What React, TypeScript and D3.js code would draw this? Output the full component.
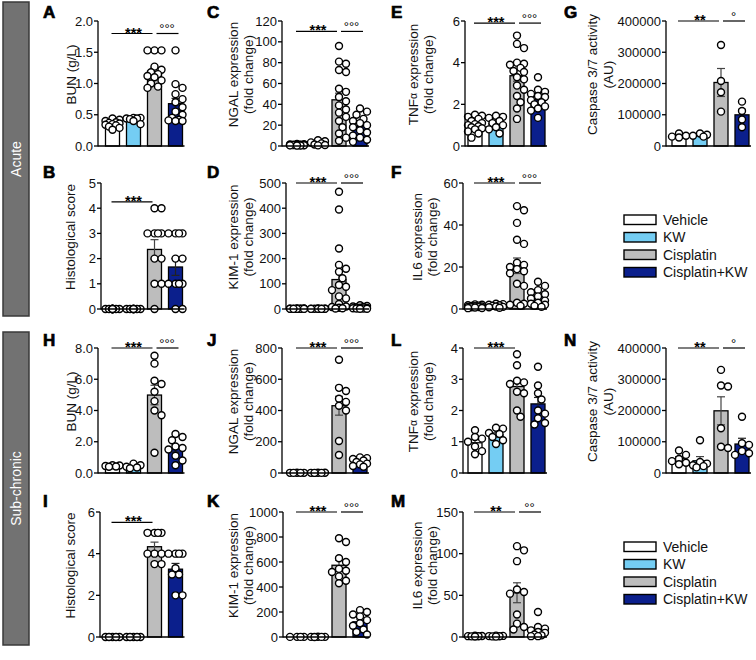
import React from 'react';
import * as d3 from 'd3';

const FONT = 'Liberation Sans, Arial, Helvetica, sans-serif';

const groups = ['Vehicle', 'KW', 'Cisplatin', 'Cisplatin+KW'];
const groupColors = ['#ffffff', '#74cdf3', '#bdbdbd', '#0b1f8c'];

// ---- Acute ----
const bunAcute = [
  [0.44, 0.42, 0.40, 0.38, 0.37, 0.36, 0.35, 0.34, 0.33, 0.31, 0.29, 0.26],
  [0.45, 0.45, 0.44, 0.44, 0.43, 0.40, 0.35],
  [1.53, 1.53, 1.53, 1.27, 1.22, 1.18, 1.15, 1.12, 1.10, 1.05, 1.00, 0.95, 0.93],
  [1.53, 0.99, 0.93, 0.83, 0.75, 0.70, 0.62, 0.55, 0.50, 0.45, 0.42, 0.41, 0.40, 0.40],
];
const histoAcute = [
  [0, 0, 0, 0, 0, 0, 0, 0, 0, 0, 0, 0],
  [0, 0, 0, 0, 0, 0, 0, 0, 0],
  [4, 4, 3, 3, 3, 3, 2, 2, 1, 1, 0],
  [3, 3, 3, 3, 2, 2, 1, 1, 1, 1, 0, 0],
];
const ngalAcute = [
  [2.0, 1.8, 1.5, 1.3, 1.2, 1.1, 1.0, 1.0, 0.9, 0.8, 0.8, 0.7, 0.6, 0.5, 0.4],
  [5.5, 4.5, 3.5, 2.5, 1.5, 1.0, 0.6],
  [96, 81, 79, 73, 71, 55, 52, 47, 43, 39, 35, 32, 28, 24, 18, 12, 8, 5],
  [36, 33, 30, 26, 24, 22, 20, 18, 15, 13, 10, 8, 6, 4],
];
const kimAcute = [
  [2.5, 2, 1.5, 1.2, 1, 1, 0.9, 0.8, 0.7, 0.6, 0.5, 0.4],
  [2, 1.6, 1.3, 1.1, 1, 0.9, 0.8, 0.6, 0.5],
  [465, 395, 240, 175, 160, 148, 122, 95, 88, 75, 50, 42, 20, 10, 8, 5, 3, 2],
  [15, 12, 10, 8, 6, 5, 4, 3, 2, 2, 1, 1],
];
const tnfAcute = [
  [1.5, 1.45, 1.4, 1.3, 1.2, 1.1, 1.05, 1.0, 0.95, 0.9, 0.85, 0.8, 0.7, 0.6, 0.4],
  [1.45, 1.4, 1.35, 1.2, 1.1, 1.0, 0.9, 0.8, 0.6],
  [5.3, 4.9, 4.7, 4.0, 3.95, 3.9, 3.75, 3.6, 3.55, 3.3, 3.2, 2.9, 2.7, 2.4, 2.1, 1.8, 1.3],
  [3.3, 2.7, 2.6, 2.5, 2.4, 2.35, 2.2, 2.1, 2.0, 1.9, 1.8, 1.7, 1.35],
];
const il6Acute = [
  [2.2, 2.0, 1.8, 1.6, 1.5, 1.3, 1.2, 1.0, 0.9, 0.8, 0.7, 0.5, 0.4],
  [2.5, 2.3, 2.0, 1.8, 1.5, 1.2, 1.0, 0.8, 0.6],
  [49, 47, 41, 33, 31, 22, 21, 20, 19, 18, 17, 12, 11, 3, 2.5, 2, 1.5],
  [13, 11, 9, 8, 7, 6, 5, 4, 3, 2.5, 2, 1.5, 1],
];
const caspAcute = [
  [40000, 33000, 30000, 27000],
  [40000, 36000, 33000, 30000],
  [323000, 208000, 172000, 110000],
  [142000, 112000, 85000, 60000],
];

// ---- Sub-chronic ----
const bunSub = [
  [0.5, 0.48, 0.45, 0.42, 0.4],
  [0.6, 0.5, 0.4, 0.35, 0.3],
  [7.5, 7.0, 5.9, 5.7, 5.2, 4.6, 4.0, 3.7, 1.3],
  [2.5, 2.3, 2.1, 1.7, 1.6, 1.5, 1.1, 0.8, 0.5],
];
const histoSub = [
  [0, 0, 0, 0, 0],
  [0, 0, 0, 0, 0],
  [5, 5, 5, 5, 4, 4, 4, 3.5, 3.5],
  [4, 4, 4, 4, 3.3, 3, 3, 2, 2],
];
const ngalSub = [
  [1.3, 1.1, 1.0, 0.9, 0.7],
  [1.4, 1.2, 1.0, 0.8, 0.6],
  [725, 545, 525, 475, 455, 430, 400, 205, 115],
  [100, 95, 90, 80, 70, 60, 55, 45, 40],
];
const kimSub = [
  [1.2, 1.0, 0.9, 0.8],
  [1.5, 1.2, 1.0, 0.8, 0.6],
  [790, 760, 630, 600, 545, 530, 520, 485, 450, 430],
  [215, 200, 180, 165, 135, 110, 90, 60, 40, 20],
];
const tnfSub = [
  [1.37, 1.15, 1.1, 1.0, 0.85, 0.7, 0.6],
  [1.45, 1.42, 1.28, 1.25, 1.15, 1.05, 0.93],
  [3.8, 3.45, 2.95, 2.9, 2.85, 2.6, 2.55, 2.0, 1.8],
  [3.4, 2.8, 2.55, 2.35, 2.0, 1.9, 1.75, 1.6, 1.55],
];
const il6Sub = [
  [1.5, 1.2, 1.0, 0.9, 0.8, 0.6],
  [1.6, 1.3, 1.1, 0.9, 0.7, 0.5],
  [109, 104, 91, 57, 54, 52, 27, 16, 12, 9],
  [30, 12, 10, 8, 6, 5, 3, 2, 1, 1],
];
const caspSub = [
  [72000, 58000, 45000, 38000, 33000, 28000],
  [105000, 35000, 30000, 25000, 22000, 18000],
  [330000, 280000, 277000, 143000, 84000, 80000],
  [180000, 95000, 90000, 70000, 63000, 58000],
];

// tick values
const ticksBun = [0, 0.5, 1, 1.5, 2];
const ticksHisto5 = [0, 1, 2, 3, 4, 5];
const ticksNgal = [0, 20, 40, 60, 80, 100, 120];
const ticksKim = [0, 100, 200, 300, 400, 500];
const ticksTnf6 = [0, 2, 4, 6];
const ticksIl6 = [0, 20, 40, 60];
const ticksCasp = [0, 100000, 200000, 300000, 400000];
const ticksBunSub = [0, 2, 4, 6, 8];
const ticksHisto6 = [0, 2, 4, 6];
const ticksNgalSub = [0, 200, 400, 600, 800];
const ticksKimSub = [0, 200, 400, 600, 800, 1000];
const ticksTnf4 = [0, 1, 2, 3, 4];
const ticksIl6Sub = [0, 50, 100, 150];

const lblBun = ['BUN (g/L)'];
const lblHisto = ['Histological score'];
const lblNgal = ['NGAL expression', '(fold change)'];
const lblKim = ['KIM-1 expression', '(fold change)'];
const lblTnf = ['TNFα expression', '(fold change)'];
const lblIl6 = ['IL6 expression', '(fold change)'];
const lblCasp = ['Caspase 3/7 activity', '(AU)'];

// layout
const ROW_Y0 = [146, 309, 473, 637];
const ROW_TOP = [21, 183, 348, 512];
const COL_BAR0 = [105.5, 290, 468, 672];
const LETTER_X = [43, 207, 391, 564];
const LETTER_Y = [18, 178, 346, 507];
const BAR_W = 14;
const BAR_STEP = 21;

type Panel = {
  letter: string; data: number[][]; ticks: number[]; fmt: (v: number) => string;
  row: number; col: number; axisX: number; label: string[]; labelX: number[];
  sigY: number; sig1: string; sig2: string | null;
};

const f1 = d3.format('.1f');
const f0 = d3.format('d');

const panels: Panel[] = [
  { letter: 'A', data: bunAcute, ticks: ticksBun, fmt: f1, row: 0, col: 0, axisX: 98, label: lblBun, labelX: [71], sigY: 1.8, sig1: '***', sig2: '°°°' },
  { letter: 'C', data: ngalAcute, ticks: ticksNgal, fmt: f0, row: 0, col: 1, axisX: 282, label: lblNgal, labelX: [233, 248], sigY: 110, sig1: '***', sig2: '°°°' },
  { letter: 'E', data: tnfAcute, ticks: ticksTnf6, fmt: f0, row: 0, col: 2, axisX: 465, label: lblTnf, labelX: [413, 428], sigY: 5.9, sig1: '***', sig2: '°°°' },
  { letter: 'G', data: caspAcute, ticks: ticksCasp, fmt: f0, row: 0, col: 3, axisX: 666, label: lblCasp, labelX: [592, 608], sigY: 400000, sig1: '**', sig2: '°' },
  { letter: 'B', data: histoAcute, ticks: ticksHisto5, fmt: f0, row: 1, col: 0, axisX: 101, label: lblHisto, labelX: [70], sigY: 4.25, sig1: '***', sig2: null },
  { letter: 'D', data: kimAcute, ticks: ticksKim, fmt: f0, row: 1, col: 1, axisX: 286, label: lblKim, labelX: [233, 248], sigY: 500, sig1: '***', sig2: '°°°' },
  { letter: 'F', data: il6Acute, ticks: ticksIl6, fmt: f0, row: 1, col: 2, axisX: 463, label: lblIl6, labelX: [417, 432], sigY: 60, sig1: '***', sig2: '°°°' },
  { letter: 'H', data: bunSub, ticks: ticksBunSub, fmt: f1, row: 2, col: 0, axisX: 98, label: lblBun, labelX: [71], sigY: 8, sig1: '***', sig2: '°°°' },
  { letter: 'J', data: ngalSub, ticks: ticksNgalSub, fmt: f0, row: 2, col: 1, axisX: 282, label: lblNgal, labelX: [233, 248], sigY: 800, sig1: '***', sig2: '°°°' },
  { letter: 'L', data: tnfSub, ticks: ticksTnf4, fmt: f0, row: 2, col: 2, axisX: 463, label: lblTnf, labelX: [413, 428], sigY: 4, sig1: '***', sig2: null },
  { letter: 'N', data: caspSub, ticks: ticksCasp, fmt: f0, row: 2, col: 3, axisX: 666, label: lblCasp, labelX: [592, 608], sigY: 400000, sig1: '**', sig2: '°' },
  { letter: 'I', data: histoSub, ticks: ticksHisto6, fmt: f0, row: 3, col: 0, axisX: 100, label: lblHisto, labelX: [70], sigY: 5.5, sig1: '***', sig2: null },
  { letter: 'K', data: kimSub, ticks: ticksKimSub, fmt: f0, row: 3, col: 1, axisX: 283, label: lblKim, labelX: [233, 248], sigY: 1000, sig1: '***', sig2: '°°°' },
  { letter: 'M', data: il6Sub, ticks: ticksIl6Sub, fmt: f0, row: 3, col: 2, axisX: 463, label: lblIl6, labelX: [417, 432], sigY: 150, sig1: '**', sig2: '°°' },
];

const R = 3.5;

function swarm(values: number[], y: (v: number) => number, maxOff: number): number[] {
  const placed: { x: number; y: number }[] = [];
  const order = values.map((_, i) => i).sort((a, b) => values[b] - values[a]);
  const res: number[] = new Array(values.length).fill(0);
  const step = R;
  const cands = [0];
  for (let k = 1; k * step <= maxOff + 0.01; k++) cands.push(k * step, -k * step);
  for (const i of order) {
    const py = y(values[i]);
    let best = 0;
    let bestScore = -Infinity;
    for (const c of cands) {
      let minD = Infinity;
      for (const p of placed) {
        const d = Math.hypot(p.x - c, p.y - py);
        if (d < minD) minD = d;
      }
      if (minD >= 2 * R - 0.4) { best = c; bestScore = Infinity; break; }
      if (minD > bestScore) { bestScore = minD; best = c; }
    }
    placed.push({ x: best, y: py });
    res[i] = best;
  }
  return res;
}

function AxisLabel({ text, x, y }: { text: string; x: number; y: number }) {
  const parts = text.split('α');
  return (
    <text transform={`translate(${x},${y}) rotate(-90)`} textAnchor="middle" dominantBaseline="central"
      fontFamily={FONT} fontSize={13.5} fill="#111">
      {parts.length > 1 ? (
        <>
          {parts[0]}
          <tspan fontSize={10.5}>α</tspan>
          {parts[1]}
        </>
      ) : text}
    </text>
  );
}

function PanelView({ p }: { p: Panel }) {
  const y0 = ROW_Y0[p.row];
  const yTop = ROW_TOP[p.row];
  const max = p.ticks[p.ticks.length - 1];
  const y = d3.scaleLinear().domain([0, max]).range([y0, yTop]);
  const bar0 = COL_BAR0[p.col];
  const xEnd = bar0 + 3 * BAR_STEP + BAR_W + 2;
  const centers = groups.map((_, i) => bar0 + i * BAR_STEP + BAR_W / 2);
  const mid = (y0 + yTop) / 2 - 9;
  const sy = y(p.sigY);
  return (
    <g>
      <text x={LETTER_X[p.col]} y={LETTER_Y[p.row]} fontFamily={FONT} fontWeight="bold" fontSize={17}
        stroke="#000" strokeWidth={0.7} fill="#000">{p.letter}</text>
      {p.label.map((t, i) => (
        <AxisLabel key={i} text={t} x={p.labelX[i]} y={mid} />
      ))}
      {/* bars */}
      {p.data.map((vals, gi) => {
        const m = d3.mean(vals) as number;
        return (
          <rect key={'b' + gi} x={bar0 + gi * BAR_STEP} y={y(m)} width={BAR_W} height={y0 - y(m)}
            fill={groupColors[gi]} stroke="#000" strokeWidth={1.3} />
        );
      })}
      {/* error bars */}
      {p.data.map((vals, gi) => {
        const m = d3.mean(vals) as number;
        const sd = vals.length > 1 ? (d3.deviation(vals) as number) : 0;
        const sem = sd / Math.sqrt(vals.length);
        const cx = centers[gi];
        const yHi = y(m + sem);
        const yLo = y(Math.max(0, m - sem));
        const col = gi === 3 ? '#222' : '#444';
        return (
          <g key={'e' + gi} stroke={col} strokeWidth={1.2}>
            <line x1={cx} x2={cx} y1={yHi} y2={yLo} />
            <line x1={cx - 4} x2={cx + 4} y1={yHi} y2={yHi} />
            <line x1={cx - 4} x2={cx + 4} y1={yLo} y2={yLo} />
          </g>
        );
      })}
      {/* dots */}
      {p.data.map((vals, gi) => {
        const offs = swarm(vals, y, 7);
        return vals.map((v, i) => (
          <circle key={'d' + gi + '_' + i} cx={centers[gi] + offs[i]} cy={y(v)} r={R}
            fill="#fff" stroke="#000" strokeWidth={1.4} />
        ));
      })}
      {/* axes */}
      <line x1={p.axisX} x2={p.axisX} y1={y0 + 0.6} y2={yTop} stroke="#000" strokeWidth={1.3} />
      <line x1={p.axisX} x2={xEnd} y1={y0} y2={y0} stroke="#000" strokeWidth={1.3} />
      {p.ticks.map((t) => (
        <g key={'t' + t}>
          <line x1={p.axisX - 4} x2={p.axisX} y1={y(t)} y2={y(t)} stroke="#000" strokeWidth={1.3} />
          <text x={p.axisX - 5} y={y(t)} textAnchor="end" dominantBaseline="central"
            fontFamily={FONT} fontSize={13} fill="#111">{p.fmt(t)}</text>
        </g>
      ))}
      {/* significance */}
      <line x1={centers[0] - 1} x2={centers[2] - 2} y1={sy} y2={sy} stroke="#000" strokeWidth={1.2} />
      <text x={(centers[0] + centers[2]) / 2} y={sy + 4} textAnchor="middle" fontFamily={FONT}
        fontSize={14.5} fontWeight="bold" fill="#000">{p.sig1}</text>
      {p.sig2 && (
        <>
          <line x1={centers[2] + 2} x2={centers[3] + 3} y1={sy} y2={sy} stroke="#000" strokeWidth={1.2} />
          <text x={(centers[2] + centers[3]) / 2 + 2} y={sy - 0.5} textAnchor="middle" fontFamily={FONT}
            fontSize={13} fill="#000">{p.sig2}</text>
        </>
      )}
    </g>
  );
}

function Legend({ top }: { top: number }) {
  return (
    <g>
      {groups.map((g, i) => {
        const yy = top + i * 17.5;
        return (
          <g key={g}>
            <rect x={624} y={yy} width={32} height={9.5} fill={groupColors[i]} stroke="#000" strokeWidth={1.4} />
            <text x={663} y={yy + 4.75} dominantBaseline="central" fontFamily={FONT} fontSize={14} fill="#111">{g}</text>
          </g>
        );
      })}
    </g>
  );
}

function SideBar({ y1, y2, text }: { y1: number; y2: number; text: string }) {
  return (
    <g>
      <rect x={3} y={y1} width={26} height={y2 - y1} fill="#727272" stroke="#3a3a3a" strokeWidth={1.5} />
      <text transform={`translate(16,${(y1 + y2) / 2}) rotate(-90)`} textAnchor="middle" dominantBaseline="central"
        fontFamily={FONT} fontSize={14} fill="#fff">{text}</text>
    </g>
  );
}

export default function App() {
  return (
    <svg width={756} height={660} style={{ position: 'absolute', left: 0, top: 0, background: '#fff' }}>
      <rect x={0} y={0} width={756} height={660} fill="#fff" />
      <SideBar y1={2} y2={316} text="Acute" />
      <SideBar y1={332} y2={645} text="Sub-chronic" />
      {panels.map((p) => <PanelView key={p.letter} p={p} />)}
      <Legend top={215} />
      <Legend top={542} />
    </svg>
  );
}
